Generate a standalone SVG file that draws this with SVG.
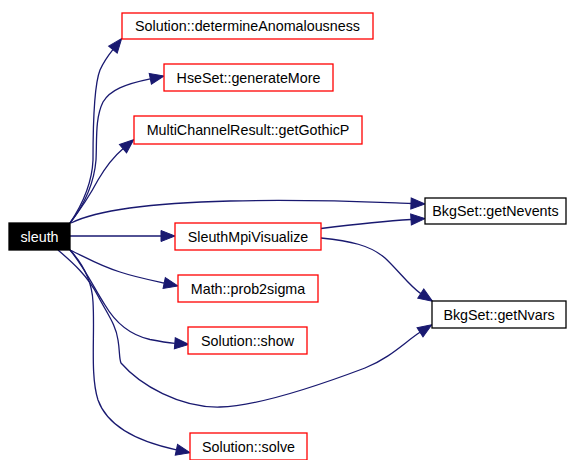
<svg xmlns="http://www.w3.org/2000/svg" width="567" height="460" viewBox="0 0 567 460">
  <style>
    .box { fill: #ffffff; stroke-width: 1.3; }
    .ref { stroke: #ff0000; }
    .ext { stroke: #000000; }
    .root { fill: #000000; stroke: #000000; stroke-width: 1.3; }
    text { font-family: "Liberation Sans", Arial, sans-serif; font-size: 14.3px; text-anchor: middle; fill: #000000; }
    .root-label { fill: #ffffff; }
    .edge { fill: none; stroke: #191970; stroke-width: 1.3; marker-end: url(#arrow); }
  </style>
  <defs>
    <marker id="arrow" markerUnits="userSpaceOnUse" markerWidth="14" markerHeight="11" refX="0" refY="5.5" orient="auto" overflow="visible">
      <path d="M0,0 L14,5.5 L0,11 z" fill="#191970" stroke="#191970" stroke-width="1"/>
    </marker>
  </defs>

  <rect width="567" height="460" fill="#ffffff"/>

  <!-- call edges -->
  <g id="edges">
    <path class="edge" d="M70,223 C82,205 92,185 93,160 C93,120 94,85 100,70 C104,61 107,57 112.9,49.6"/>
    <path class="edge" d="M70,223 C84,205 94,185 96,160 C97,140 95,118 103,102 C110,90 125,84 150.3,78.8"/>
    <path class="edge" d="M70,223 C80,210 90,195 98,180 C105,168 112,158 123,148.7"/>
    <path class="edge" d="M71,223 C95,211 150,203 230,201 C310,199 370,202 411,203.5"/>
    <path class="edge" d="M70,236 L161,236"/>
    <path class="edge" d="M321,228.5 C350,225 380,221.5 411,219.5"/>
    <path class="edge" d="M321,238 C350,241 370,245 385,258 C398,270 410,286.5 420.8,293.6"/>
    <path class="edge" d="M70,250 C85,257 100,266 120,272 C135,277 150,280 164.2,283"/>
    <path class="edge" d="M70,250 C85,268 95,290 105,305 C115,322 130,335 150,339.5 C160,341.5 165,342.5 174.8,343.3"/>
    <path class="edge" d="M58,250 C72,262 88,276 98,296 C108,315 116,325 118,340 C120,352 119,358 121,363 C140,385 180,408 220,407 C260,406 320,385 365,368 C390,358 405,342 420,332.3"/>
    <path class="edge" d="M70,250 C83,264 92,280 93,302 C95,335 90,375 98,400 C108,428 140,442 176.4,449.8"/>
  </g>

  <g id="node-sleuth">
    <rect class="root" x="9" y="223" width="61" height="27"/>
    <text class="root-label" x="39.5" y="241.5">sleuth</text>
  </g>
  <g id="node-determineAnomalousness">
    <rect class="box ref" x="122" y="13" width="251" height="26"/>
    <text x="247.5" y="31">Solution::determineAnomalousness</text>
  </g>
  <g id="node-generateMore">
    <rect class="box ref" x="164" y="64" width="169" height="27"/>
    <text x="248.5" y="82.5">HseSet::generateMore</text>
  </g>
  <g id="node-getGothicP">
    <rect class="box ref" x="134" y="116" width="228" height="28"/>
    <text x="248" y="135">MultiChannelResult::getGothicP</text>
  </g>
  <g id="node-getNevents">
    <rect class="box ext" x="425" y="198" width="141" height="26"/>
    <text x="495.5" y="216">BkgSet::getNevents</text>
  </g>
  <g id="node-SleuthMpiVisualize">
    <rect class="box ref" x="175" y="223" width="146" height="27"/>
    <text x="248" y="241.5">SleuthMpiVisualize</text>
  </g>
  <g id="node-prob2sigma">
    <rect class="box ref" x="178" y="275" width="140" height="27"/>
    <text x="248" y="293.5">Math::prob2sigma</text>
  </g>
  <g id="node-getNvars">
    <rect class="box ext" x="432" y="301" width="134" height="27"/>
    <text x="499" y="319.5">BkgSet::getNvars</text>
  </g>
  <g id="node-show">
    <rect class="box ref" x="188" y="327" width="119" height="27"/>
    <text x="247.5" y="345.5">Solution::show</text>
  </g>
  <g id="node-solve">
    <rect class="box ref" x="190" y="433" width="117" height="27"/>
    <text x="248.5" y="451.5">Solution::solve</text>
  </g>
</svg>
